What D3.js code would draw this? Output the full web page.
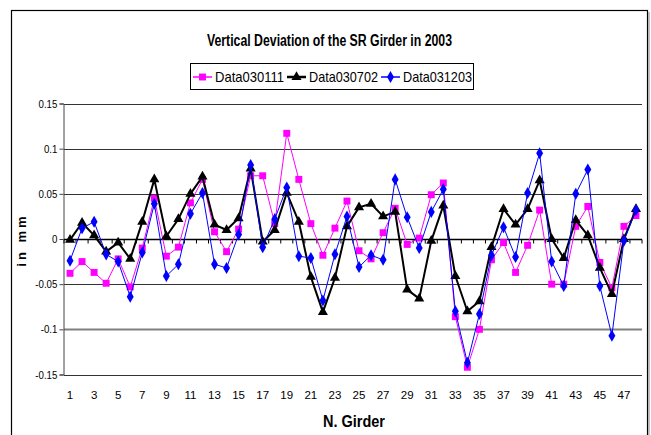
<!DOCTYPE html>
<html>
<head>
<meta charset="utf-8">
<script src="https://cdn.jsdelivr.net/npm/d3@7"></script>
<style>
  html, body { margin: 0; padding: 0; background: #fff; }
  svg { display: block; }
  text { font-family: "Liberation Sans Narrow", "Arial Narrow", "Liberation Sans", Arial, sans-serif; }
</style>
</head>
<body>
<svg id="chart" width="651" height="435"></svg>
<script>
const girders = d3.range(1, 49);
const seriesNames = ["Data030111", "Data030702", "Data031203"];
const data030111 = [-0.038,-0.025,-0.037,-0.049,-0.022,-0.053,-0.010,0.045,-0.019,-0.009,
  0.040,0.066,0.008,-0.014,0.011,0.070,0.070,0.017,0.117,0.066,
  0.017,-0.018,0.012,0.042,-0.013,-0.022,0.007,0.034,-0.006,0.001,
  0.049,0.062,-0.086,-0.142,-0.100,-0.023,-0.004,-0.037,-0.007,0.032,
  -0.050,-0.050,0.014,0.036,-0.026,-0.054,0.014,0.026];
const data030702 = [-0.001,0.018,0.004,-0.014,-0.004,-0.022,0.019,0.066,0.003,0.022,
  0.050,0.069,0.016,0.010,0.023,0.078,-0.003,0.010,0.051,0.019,
  -0.042,-0.081,-0.043,0.014,0.035,0.039,0.025,0.030,-0.056,-0.066,
  -0.002,0.037,-0.041,-0.080,-0.069,-0.009,0.033,0.016,0.033,0.065,
  0.000,-0.021,0.021,0.004,-0.032,-0.061,0.000,0.033];
const data031203 = [-0.024,0.012,0.019,-0.017,-0.025,-0.064,-0.015,0.039,-0.041,-0.028,
  0.028,0.051,-0.028,-0.032,0.005,0.082,-0.009,0.022,0.057,-0.019,
  -0.021,-0.068,-0.017,0.025,-0.031,-0.018,-0.023,0.066,0.024,-0.010,
  0.030,0.055,-0.080,-0.137,-0.083,-0.018,0.013,-0.020,0.051,0.095,
  -0.025,-0.052,0.050,0.077,-0.052,-0.107,-0.002,0.032];
const yTicks = [0.15, 0.1, 0.05, 0, -0.05, -0.1, -0.15];
const yTickLabels = ["0.15", "0.1", "0.05", "0", "-0.05", "-0.1", "-0.15"];
const xTickLabels = d3.range(1, 49, 2);
const titleText = "Vertical Deviation of the SR Girder in 2003";
const xTitle = "N. Girder";
const yTitle = "in mm";

const series = [
  { name: seriesNames[0], values: data030111, color: "#FF00FF", width: 1, symbol: d3.symbolSquare, size: 48 },
  { name: seriesNames[1], values: data030702, color: "#000000", width: 2, symbol: d3.symbolTriangle, size: 44 },
  { name: seriesNames[2], values: data031203, color: "#0000FF", width: 1, symbol: d3.symbolDiamond, size: 42 }
];

const svg = d3.select("#chart");

// outer frame
svg.append("rect").attr("x", 11.5).attr("y", 10.5).attr("width", 636).attr("height", 440)
  .attr("fill", "none").attr("stroke", "#000").attr("stroke-width", 1.2);
svg.append("line").attr("x1", 649).attr("x2", 649).attr("y1", 12).attr("y2", 435)
  .attr("stroke", "#888").attr("stroke-width", 1);

const plotLeft = 64, plotRight = 642, plotTop = 103.5, plotBottom = 374.5;
const x = d3.scaleBand().domain(girders).range([plotLeft, plotRight]).padding(0);
const xc = d => x(d) + x.bandwidth() / 2;
const y = d3.scaleLinear().domain([-0.15, 0.15]).range([plotBottom, plotTop]);

// gridlines
svg.append("g").selectAll("line").data(yTicks.filter(v => v !== 0)).join("line")
  .attr("x1", plotLeft).attr("x2", plotRight)
  .attr("y1", d => Math.round(y(d)) + 0.5).attr("y2", d => Math.round(y(d)) + 0.5)
  .attr("stroke", d => Math.abs(d + 0.1) < 1e-9 ? "#808080" : "#333")
  .attr("stroke-width", d => Math.abs(d + 0.1) < 1e-9 ? 2 : 1);

// y axis
const yAxis = d3.axisLeft(y).tickValues(yTicks).tickSize(4)
  .tickFormat((d, i) => yTickLabels[i]);
const gy = svg.append("g").attr("transform", `translate(${plotLeft - 0.5},0)`).call(yAxis);
gy.select(".domain").attr("stroke", "#444");
gy.selectAll(".tick line").attr("stroke", "#444");
gy.selectAll(".tick text").attr("font-size", 11).attr("fill", "#000").attr("x", -6)
  .attr("transform", "translate(-7,0) scale(0.88,1) translate(7,0)");

// zero axis with category ticks
const y0 = Math.round(y(0)) + 0.5;
svg.append("line").attr("x1", plotLeft).attr("x2", plotRight).attr("y1", y0).attr("y2", y0)
  .attr("stroke", "#000").attr("stroke-width", 1.3);
svg.append("g").selectAll("line").data(girders.concat([49])).join("line")
  .attr("x1", d => d === 49 ? plotRight : x(d)).attr("x2", d => d === 49 ? plotRight : x(d))
  .attr("y1", y0).attr("y2", y0 + 4).attr("stroke", "#000");

// x tick labels at bottom
svg.append("g").selectAll("text").data(xTickLabels).join("text")
  .attr("x", d => xc(d)).attr("y", 399).attr("text-anchor", "middle")
  .attr("font-size", 11.5).text(d => d);

// series
const line = d3.line().x((d, i) => xc(girders[i])).y(d => y(d));
series.forEach(s => {
  const g = svg.append("g");
  g.append("path").datum(s.values).attr("d", line)
    .attr("fill", "none").attr("stroke", s.color).attr("stroke-width", s.width)
    .attr("stroke-linejoin", "round");
  g.selectAll("path.m").data(s.values).join("path").attr("class", "m")
    .attr("transform", (d, i) => `translate(${xc(girders[i])},${y(d)})`)
    .attr("d", d3.symbol().type(s.symbol).size(s.size))
    .attr("fill", s.color);
});

// title
svg.append("text").attr("x", 207).attr("y", 46)
  .attr("font-size", 16).attr("font-weight", "bold")
  .attr("textLength", 245).attr("lengthAdjust", "spacingAndGlyphs").text(titleText);

// axis titles
svg.append("text").attr("x", 323).attr("y", 427)
  .attr("font-size", 16).attr("font-weight", "bold")
  .attr("textLength", 62).attr("lengthAdjust", "spacingAndGlyphs").text(xTitle);
svg.append("text").attr("transform", "translate(26,240) rotate(-90)")
  .attr("text-anchor", "middle").attr("font-size", 13).attr("font-weight", "bold")
  .attr("letter-spacing", 3).text(yTitle);

// legend
const lg = svg.append("g");
lg.append("rect").attr("x", 190.5).attr("y", 63.5).attr("width", 283).attr("height", 26)
  .attr("fill", "#fff").attr("stroke", "#000");
const legX = [193, 287, 381];
series.forEach((s, i) => {
  const lx = legX[i];
  lg.append("line").attr("x1", lx).attr("x2", lx + 19).attr("y1", 77).attr("y2", 77)
    .attr("stroke", s.color).attr("stroke-width", s.width + 0.5);
  lg.append("path").attr("transform", `translate(${lx + 9.5},77)`)
    .attr("d", d3.symbol().type(s.symbol).size(s.size)).attr("fill", s.color);
  lg.append("text").attr("x", lx + 22).attr("y", 82).attr("font-size", 15)
    .attr("textLength", 69).attr("lengthAdjust", "spacingAndGlyphs").text(s.name);
});
</script>
</body>
</html>
